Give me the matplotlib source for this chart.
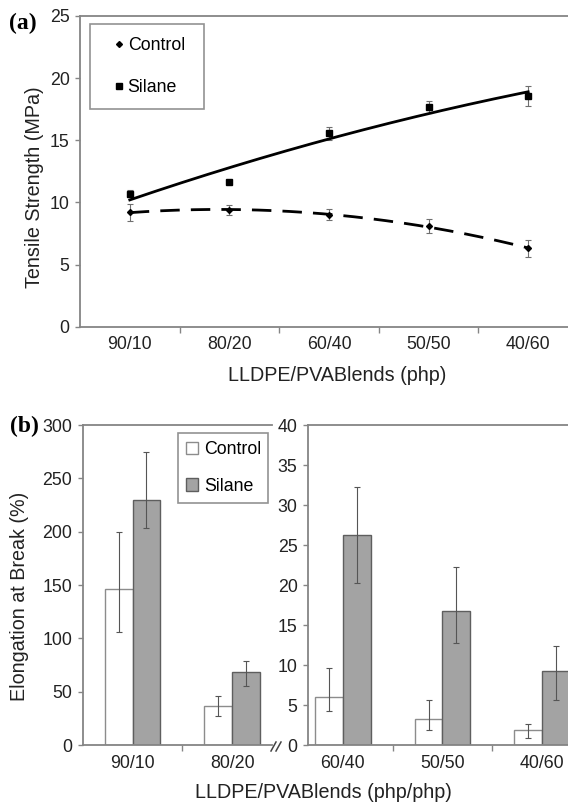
import matplotlib
matplotlib.use('Agg')
import matplotlib.pyplot as plt
from matplotlib.lines import Line2D
from matplotlib.patches import Patch
import numpy as np

# ---------------- data ----------------
blends = ['90/10', '80/20', '60/40', '50/50', '40/60']
control_ts = [9.2, 9.4, 9.0, 8.1, 6.3]
control_ts_err = [0.67, 0.4, 0.45, 0.55, 0.67]
silane_ts = [10.7, 11.65, 15.55, 17.7, 18.55]
silane_ts_err = [0.3, 0.1, 0.5, 0.5, 0.8]

blends_left = ['90/10', '80/20']
control_el_left = [146, 37]
control_el_left_lo = [40, 9.5]
control_el_left_hi = [54, 9.4]
silane_el_left = [230, 68]
silane_el_left_lo = [27, 12.5]
silane_el_left_hi = [45, 11]

blends_right = ['60/40', '50/50', '40/60']
control_el_right = [6.0, 3.3, 1.9]
control_el_right_lo = [1.8, 1.4, 1.0]
control_el_right_hi = [3.6, 2.3, 0.7]
silane_el_right = [26.3, 16.8, 9.2]
silane_el_right_lo = [6.0, 4.0, 3.6]
silane_el_right_hi = [6.0, 5.4, 3.2]

# ---------------- style ----------------
plt.rcParams['font.family'] = ['Liberation Sans', 'DejaVu Sans']
TICK_FS = 12.8
LABEL_FS = 14.2
SPINE_C = '#858585'
W, H = 568, 806

fig = plt.figure(figsize=(W / 100, H / 100), dpi=100)


def fx(px):
    return px / W


def fy(py):
    return 1 - py / H


def style_axes(ax, ticks_minor):
    for s in ['left', 'bottom', 'top']:
        ax.spines[s].set_color(SPINE_C)
        ax.spines[s].set_linewidth(1.3)
    ax.spines['right'].set_visible(False)
    ax.tick_params(axis='y', direction='out', length=3.5, width=1, color=SPINE_C,
                   labelsize=TICK_FS, pad=4, labelcolor='#222222')
    ax.tick_params(axis='x', which='major', length=0, labelsize=TICK_FS, pad=7,
                   labelcolor='#222222')
    ax.set_xticks(ticks_minor, minor=True)
    ax.tick_params(axis='x', which='minor', direction='out', length=4, width=1,
                   color=SPINE_C)


# ---------------- panel (a) ----------------
ax1 = fig.add_axes([fx(80), fy(326.7), fx(568 - 80), (326.7 - 16) / H])
x = np.arange(len(blends))
ax1.errorbar(x, silane_ts, yerr=silane_ts_err, fmt='s', ms=4, color='black',
             ecolor='#6f6f6f', elinewidth=0.8, capsize=2.5, capthick=0.8, zorder=3)
ax1.errorbar(x, control_ts, yerr=control_ts_err, fmt='D', ms=3, color='black',
             ecolor='#6f6f6f', elinewidth=0.8, capsize=2.5, capthick=0.8, zorder=3)
xs = np.linspace(0, len(blends) - 1, 200)
ax1.plot(xs, np.polyval(np.polyfit(x, silane_ts, 2), xs), color='black', lw=2.0, zorder=4)
ax1.plot(xs, np.polyval(np.polyfit(x, control_ts, 2), xs), color='black', lw=2.0,
         ls=(0, (7, 4)), zorder=4)
ax1.set_xlim(-0.5, 4.4)
ax1.set_ylim(0, 25)
ax1.set_yticks(np.arange(0, 26, 5))
ax1.set_xticks(x)
ax1.set_xticklabels(blends)
style_axes(ax1, x[:-1] + 0.5)
ax1.set_ylabel('Tensile Strength (MPa)', fontsize=LABEL_FS, color='#222222')
ax1.yaxis.set_label_coords(-0.074, 0.45)
h1 = [Line2D([], [], marker='D', ls='none', color='black', ms=3, label='Control'),
      Line2D([], [], marker='s', ls='none', color='black', ms=4, label='Silane')]
leg1 = ax1.legend(handles=h1, loc='upper left',
                  bbox_to_anchor=(10 / 488, 0.964, 114 / 488, 0.01), mode='expand',
                  fontsize=TICK_FS, frameon=True, fancybox=False, borderpad=0.72,
                  labelspacing=1.4, handlelength=1.8, handletextpad=-0.4,
                  borderaxespad=0)
leg1.get_frame().set_edgecolor('#777777')
leg1.get_frame().set_linewidth(1.2)
fig.text(fx(337.5), fy(376), 'LLDPE/PVABlends (php)', fontsize=LABEL_FS,
         ha='center', va='center', color='#222222')
fig.text(fx(22.6), fy(23), '(a)', family=['Liberation Serif'], fontweight='bold',
         fontsize=17, ha='center', va='center')

# ---------------- panel (b) ----------------
bw = 0.28
ctrl_kw = dict(facecolor='white', edgecolor='#8c8c8c', linewidth=1.0)
sil_kw = dict(facecolor='#a3a3a3', edgecolor='#5e5e5e', linewidth=1.0)
err_kw = dict(ecolor='#555555', elinewidth=0.8, capsize=2.5, capthick=0.8)

axL = fig.add_axes([fx(82.7), fy(745), fx(272 - 82.7), 320 / H])
xl = np.arange(len(blends_left))
axL.bar(xl - bw / 2, control_el_left, bw, yerr=[control_el_left_lo, control_el_left_hi],
        error_kw=err_kw, label='Control', **ctrl_kw)
axL.bar(xl + bw / 2, silane_el_left, bw, yerr=[silane_el_left_lo, silane_el_left_hi],
        error_kw=err_kw, label='Silane', **sil_kw)
axL.set_xlim(-0.5, 1.4)
axL.set_ylim(0, 300)
axL.set_yticks(np.arange(0, 301, 50))
axL.set_xticks(xl)
axL.set_xticklabels(blends_left)
style_axes(axL, [0.5])
axL.set_ylabel('Elongation at Break (%)', fontsize=LABEL_FS, color='#222222')
axL.yaxis.set_label_coords(-0.284, 0.465)
h2 = [Patch(label='Control', **ctrl_kw), Patch(label='Silane', **sil_kw)]
leg2 = axL.legend(handles=h2, loc='upper left',
                  bbox_to_anchor=(95.3 / 189.3, 0.965, 90 / 189.3, 0.01), mode='expand',
                  fontsize=TICK_FS, frameon=True, fancybox=False, borderpad=0.45,
                  labelspacing=1.1, handlelength=0.7, handleheight=0.7,
                  handletextpad=0.3, borderaxespad=0)
leg2.get_frame().set_edgecolor('#777777')
leg2.get_frame().set_linewidth(1.2)

# axis break marks
for dx in (0, 5):
    axL.plot([(271 + dx - 82.7) / 189.3, (276 + dx - 82.7) / 189.3],
             [(745 - 751) / 320, (745 - 742) / 320], transform=axL.transAxes,
             color='#444444', lw=1.1, clip_on=False)

axR = fig.add_axes([fx(308), fy(745), fx(568 - 308), 320 / H])
xr = np.arange(len(blends_right))
axR.bar(xr - bw / 2, control_el_right, bw, yerr=[control_el_right_lo, control_el_right_hi],
        error_kw=err_kw, **ctrl_kw)
axR.bar(xr + bw / 2, silane_el_right, bw, yerr=[silane_el_right_lo, silane_el_right_hi],
        error_kw=err_kw, **sil_kw)
axR.set_xlim(-0.35, 2.26)
axR.set_ylim(0, 40)
axR.set_yticks(np.arange(0, 41, 5))
axR.set_xticks(xr)
axR.set_xticklabels(blends_right)
style_axes(axR, [0.5, 1.5])

fig.text(fx(323), fy(793), 'LLDPE/PVABlends (php/php)', fontsize=LABEL_FS,
         ha='center', va='center', color='#222222')
fig.text(fx(24.5), fy(426), '(b)', family=['Liberation Serif'], fontweight='bold',
         fontsize=17, ha='center', va='center')

fig.savefig('out.png', dpi=100)
